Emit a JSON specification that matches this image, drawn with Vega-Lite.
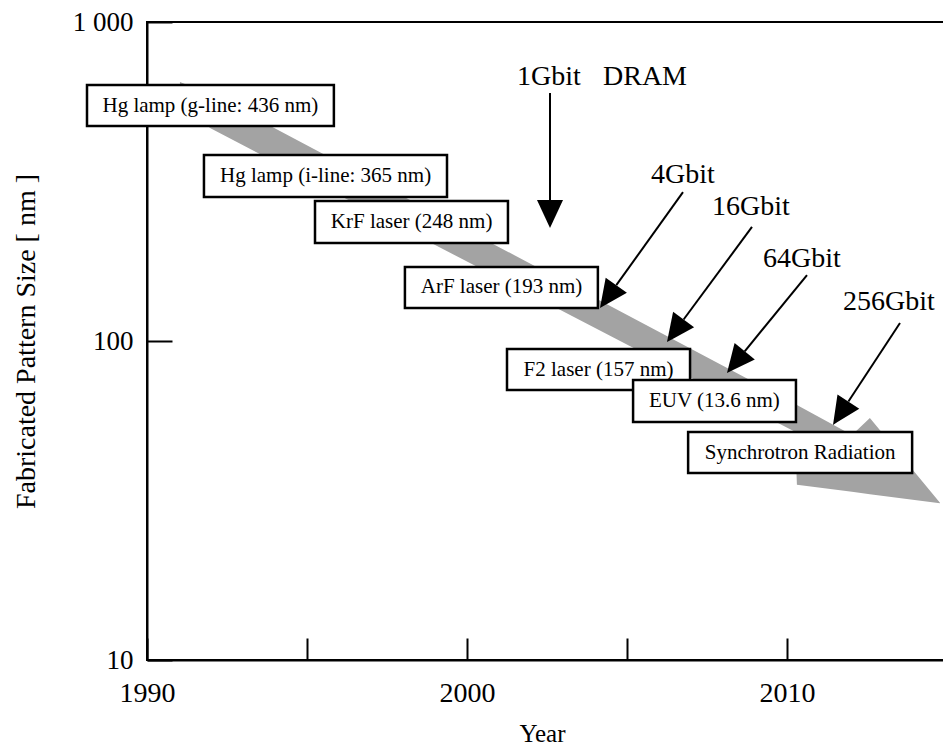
{
  "$schema": "https://vega.github.io/schema/vega-lite/v6.json",
  "width": 800,
  "height": 638,
  "autosize": {"type": "none"},
  "padding": {"left": 147, "top": 22, "right": 0, "bottom": 87},
  "background": "white",
  "config": {
    "view": {"stroke": "black", "strokeWidth": 2},
    "font": "Liberation Serif",
    "text": {"font": "Liberation Serif", "color": "black"}
  },
  "datasets": {
    "band": [
      {"x": 1991.03, "t": 648, "b": 570},
      {"x": 1991.97, "t": 595, "b": 465},
      {"x": 2010.25, "t": 63.5, "b": 51.9},
      {"x": 2010.31, "t": 63.0, "b": 35.4},
      {"x": 2012.03, "t": 50.7, "b": 33.7},
      {"x": 2012.59, "t": 57.4, "b": 33.1},
      {"x": 2014.78, "t": 31.1, "b": 31.0}
    ],
    "boxes": [
      {"label": "Hg lamp (g-line: 436 nm)", "x1": 1988.125, "x2": 1995.84, "y1": 634.6, "y2": 472.1, "tx": 1991.98, "ty": 547.2},
      {"label": "Hg lamp (i-line: 365 nm)", "x1": 1991.78, "x2": 1999.375, "y1": 382.9, "y2": 282.7, "tx": 1995.58, "ty": 329.0},
      {"label": "KrF laser (248 nm)", "x1": 1995.25, "x2": 2001.28, "y1": 274.8, "y2": 202.9, "tx": 1998.27, "ty": 236.1},
      {"label": "ArF laser (193 nm)", "x1": 1998.06, "x2": 2004.09, "y1": 170.6, "y2": 126.9, "tx": 2001.08, "ty": 147.2},
      {"label": "F2 laser (157 nm)", "x1": 2001.25, "x2": 2006.97, "y1": 94.4, "y2": 70.2, "tx": 2004.11, "ty": 81.4},
      {"label": "EUV (13.6 nm)", "x1": 2005.19, "x2": 2010.28, "y1": 75.4, "y2": 55.7, "tx": 2007.73, "ty": 64.9},
      {"label": "Synchrotron Radiation", "x1": 2006.91, "x2": 2013.91, "y1": 51.85, "y2": 38.6, "tx": 2010.41, "ty": 44.7}
    ],
    "shafts": [
      {"x1": 2002.594, "y1": 598.9, "x2": 2002.594, "y2": 266.9},
      {"x1": 2006.75, "y1": 292.9, "x2": 2004.666, "y2": 149.6},
      {"x1": 2008.906, "y1": 227.8, "x2": 2006.769, "y2": 116.8},
      {"x1": 2010.625, "y1": 161.0, "x2": 2008.678, "y2": 92.8},
      {"x1": 2013.531, "y1": 113.9, "x2": 2011.919, "y2": 64.6}
    ],
    "heads": [
      {"id": 1, "x": 2002.1875, "t": 276.7, "b": 276.7},
      {"id": 1, "x": 2002.594, "t": 276.7, "b": 226.1},
      {"id": 1, "x": 2003.0, "t": 276.7, "b": 276.7},
      {"id": 2, "x": 2004.156, "t": 126.9, "b": 126.9},
      {"id": 2, "x": 2004.334, "t": 158.0, "b": 129.9},
      {"id": 2, "x": 2004.997, "t": 141.6, "b": 141.6},
      {"id": 3, "x": 2006.25, "t": 99.3, "b": 99.3},
      {"id": 3, "x": 2006.441, "t": 123.4, "b": 101.7},
      {"id": 3, "x": 2007.097, "t": 110.5, "b": 110.5},
      {"id": 4, "x": 2008.125, "t": 79.4, "b": 79.4},
      {"id": 4, "x": 2008.3625, "t": 98.5, "b": 81.5},
      {"id": 4, "x": 2008.994, "t": 87.5, "b": 87.5},
      {"id": 5, "x": 2011.4375, "t": 54.5, "b": 54.5},
      {"id": 5, "x": 2011.578, "t": 68.0, "b": 55.7},
      {"id": 5, "x": 2012.259, "t": 61.3, "b": 61.3}
    ],
    "labels": [
      {"label": "1Gbit", "x": 2002.5625, "y": 634.6},
      {"label": "DRAM", "x": 2005.5625, "y": 634.6},
      {"label": "4Gbit", "x": 2006.75, "y": 312.8},
      {"label": "16Gbit", "x": 2008.875, "y": 248.3},
      {"label": "64Gbit", "x": 2010.469, "y": 170.6},
      {"label": "256Gbit", "x": 2013.1875, "y": 125.1}
    ]
  },
  "layer": [
    {
      "data": {"name": "band"},
      "mark": {"type": "area", "color": "#a3a3a3", "opacity": 1},
      "encoding": {
        "x": {
          "field": "x", "type": "quantitative", "title": "Year",
          "scale": {"type": "linear", "domain": [1990, 2015], "zero": false, "nice": false},
          "axis": {
            "values": [1990, 1995, 2000, 2005, 2010],
            "format": "d",
            "labelExpr": "datum.value % 10 === 0 ? datum.label : ''",
            "grid": false,
            "tickSize": -22, "tickWidth": 2, "tickColor": "black",
            "domainColor": "black", "domainWidth": 2,
            "labelFont": "Liberation Serif", "labelFontSize": 28, "labelColor": "black",
            "labelPadding": 41, "labelFlush": false, "labelOverlap": false,
            "titleFont": "Liberation Serif", "titleFontSize": 25,
            "titleFontWeight": "normal", "titleColor": "black",
            "titleX": 395, "titleY": 81, "titleBaseline": "alphabetic"
          }
        },
        "y": {
          "field": "t", "type": "quantitative", "title": "Fabricated Pattern Size [ nm ]",
          "scale": {"type": "log", "domain": [10, 1000], "nice": false},
          "axis": {
            "values": [10, 100, 1000],
            "labelExpr": "datum.value >= 1000 ? '1 000' : (datum.value >= 100 ? '100' : '10')",
            "grid": false,
            "tickSize": -25, "tickWidth": 2, "tickColor": "black",
            "domainColor": "black", "domainWidth": 2,
            "labelFont": "Liberation Serif", "labelFontSize": 27, "labelColor": "black",
            "labelPadding": 39, "labelFlush": false, "labelOverlap": false,
            "titleFont": "Liberation Serif",
            "titleFontSize": 28, "titleFontWeight": "normal", "titleColor": "black",
            "titleX": -121, "titleY": 319, "titleBaseline": "middle", "titleAlign": "center"
          }
        },
        "y2": {"field": "b"}
      }
    },
    {
      "data": {"name": "boxes"},
      "mark": {"type": "rect", "fill": "white", "stroke": "black", "strokeWidth": 2.5},
      "encoding": {
        "x": {"field": "x1", "type": "quantitative", "title": "Year", "scale": {"type": "linear", "domain": [1990, 2015], "zero": false, "nice": false}},
        "x2": {"field": "x2"},
        "y": {"field": "y1", "type": "quantitative", "title": "Fabricated Pattern Size [ nm ]", "scale": {"type": "log", "domain": [10, 1000], "nice": false}},
        "y2": {"field": "y2"}
      }
    },
    {
      "data": {"name": "boxes"},
      "mark": {"type": "text", "fontSize": 21, "align": "center", "baseline": "middle", "font": "Liberation Serif", "color": "black"},
      "encoding": {
        "x": {"field": "tx", "type": "quantitative", "title": "Year", "scale": {"type": "linear", "domain": [1990, 2015], "zero": false, "nice": false}},
        "y": {"field": "ty", "type": "quantitative", "title": "Fabricated Pattern Size [ nm ]", "scale": {"type": "log", "domain": [10, 1000], "nice": false}},
        "text": {"field": "label"}
      }
    },
    {
      "data": {"name": "shafts"},
      "mark": {"type": "rule", "strokeWidth": 2, "color": "black"},
      "encoding": {
        "x": {"field": "x1", "type": "quantitative", "title": "Year", "scale": {"type": "linear", "domain": [1990, 2015], "zero": false, "nice": false}},
        "x2": {"field": "x2"},
        "y": {"field": "y1", "type": "quantitative", "title": "Fabricated Pattern Size [ nm ]", "scale": {"type": "log", "domain": [10, 1000], "nice": false}},
        "y2": {"field": "y2"}
      }
    },
    {
      "data": {"name": "heads"},
      "mark": {"type": "area", "color": "black", "opacity": 1},
      "encoding": {
        "x": {"field": "x", "type": "quantitative", "title": "Year", "scale": {"type": "linear", "domain": [1990, 2015], "zero": false, "nice": false}},
        "y": {"field": "t", "type": "quantitative", "title": "Fabricated Pattern Size [ nm ]", "scale": {"type": "log", "domain": [10, 1000], "nice": false}},
        "y2": {"field": "b"},
        "detail": {"field": "id", "type": "nominal"}
      }
    },
    {
      "data": {"name": "labels"},
      "mark": {"type": "text", "fontSize": 28, "align": "center", "baseline": "alphabetic", "font": "Liberation Serif", "color": "black"},
      "encoding": {
        "x": {"field": "x", "type": "quantitative", "title": "Year", "scale": {"type": "linear", "domain": [1990, 2015], "zero": false, "nice": false}},
        "y": {"field": "y", "type": "quantitative", "title": "Fabricated Pattern Size [ nm ]", "scale": {"type": "log", "domain": [10, 1000], "nice": false}},
        "text": {"field": "label"}
      }
    }
  ]
}
